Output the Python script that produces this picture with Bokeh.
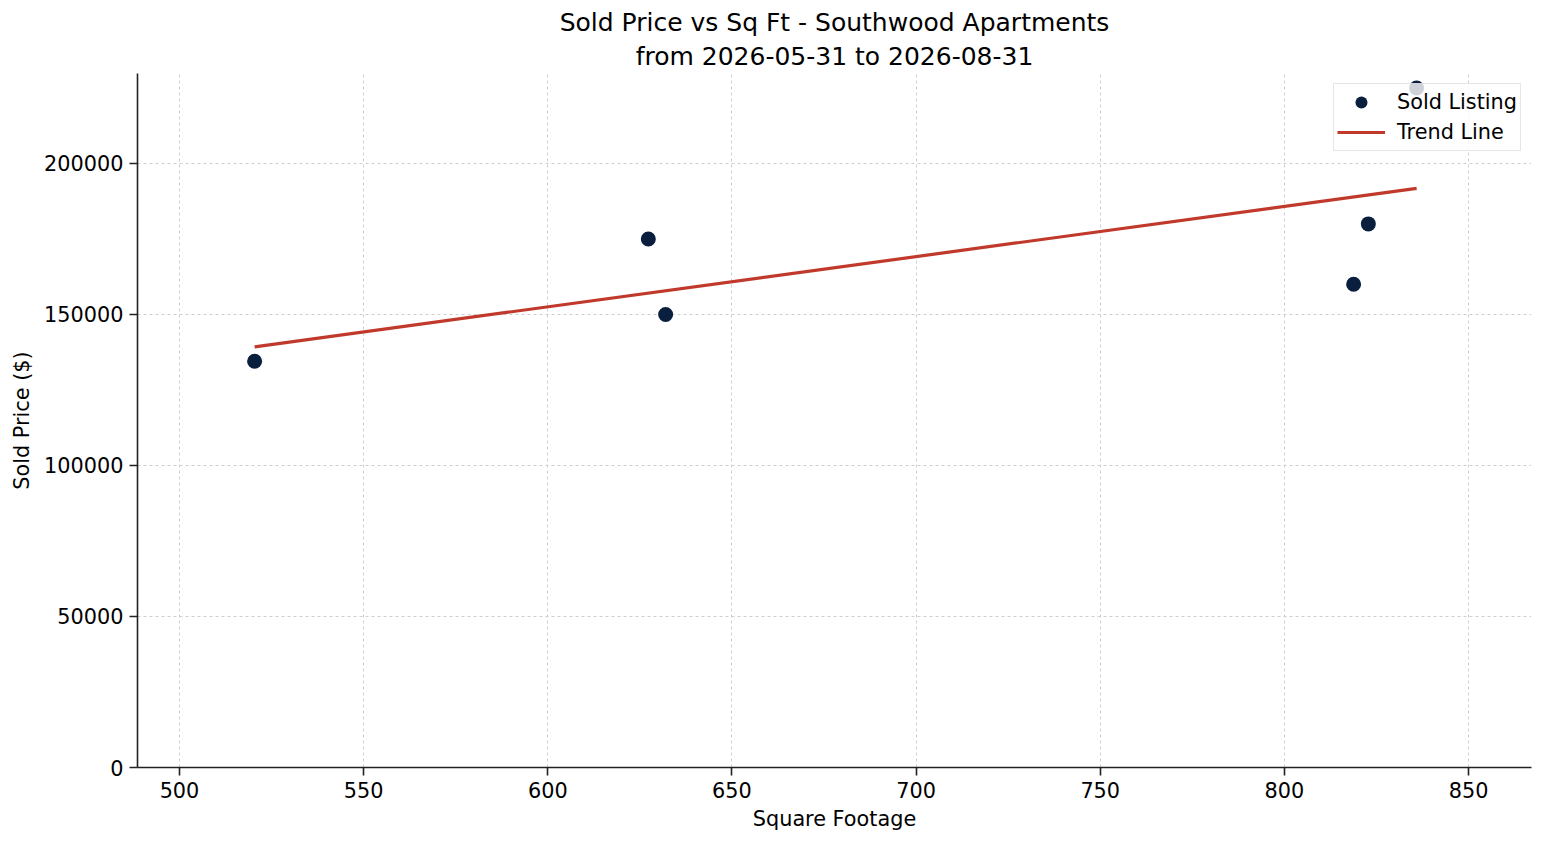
"""Sold price vs square footage scatter with trend line."""
import numpy as np
from bokeh.plotting import figure
from bokeh.models import (ColumnDataSource, Range1d, SingleIntervalTicker,
                          BasicTickFormatter, Legend, Title)
from bokeh.embed import file_html
from bokeh.resources import INLINE

TITLE_LINES = ["Sold Price vs Sq Ft - Southwood Apartments", "from 2026-05-31 to 2026-08-31"]

sqft = [520.4, 627.3, 632.0, 818.8, 822.8, 835.9]
sold_price = [134500, 175000, 150000, 160000, 180000, 225000]

FONT = "DejaVu Sans"
POINT_COLOR = "#0a1f3d"
TREND_COLOR = "#c0392b"
LABEL_SIZE = "20.8px"

# least squares trend over the sold listings
slope, intercept = np.polyfit(sqft, sold_price, 1)
trend_x = [min(sqft), max(sqft)]
trend_y = [slope * x + intercept for x in trend_x]

p = figure(
    width=1547, height=845,
    output_backend="svg", toolbar_location=None,
    x_range=Range1d(488.6, 867.1), y_range=Range1d(0, 229800),
    min_border_left=137, min_border_right=16, min_border_top=73, min_border_bottom=78,
    title=None,
)

# first added sits nearest the frame
for text, standoff in zip(reversed(TITLE_LINES), (6, 0)):
    p.add_layout(Title(text=text, align="center", text_font=FONT, text_font_size="25px",
                       text_font_style="normal", text_color="#000000",
                       standoff=standoff, offset=0), "above")

pts = ColumnDataSource(data=dict(x=sqft, y=sold_price))
trend = ColumnDataSource(data=dict(x=trend_x, y=trend_y))

r_pts = p.scatter("x", "y", source=pts, size=15, color=POINT_COLOR, line_color=None)
r_line = p.line("x", "y", source=trend, line_color=TREND_COLOR, line_width=3.2)

p.xaxis.ticker = SingleIntervalTicker(interval=50)
p.yaxis.ticker = SingleIntervalTicker(interval=50000)
p.yaxis.formatter = BasicTickFormatter(use_scientific=False)
p.xaxis.axis_label = "Square Footage"
p.yaxis.axis_label = "Sold Price ($)"

for ax in (p.xaxis, p.yaxis):
    ax.axis_line_color = "#222222"
    ax.axis_line_width = 1.6
    ax.major_tick_line_color = "#222222"
    ax.major_tick_line_width = 1.6
    ax.major_tick_out = 8
    ax.major_tick_in = 0
    ax.minor_tick_line_color = None
    ax.major_label_text_font = FONT
    ax.major_label_text_font_size = LABEL_SIZE
    ax.major_label_text_color = "#000000"
    ax.axis_label_text_font = FONT
    ax.axis_label_text_font_size = LABEL_SIZE
    ax.axis_label_text_font_style = "normal"
    ax.axis_label_text_color = "#000000"
p.xaxis.major_label_standoff = 6
p.yaxis.major_label_standoff = 6
p.xaxis.axis_label_standoff = 6
p.yaxis.axis_label_standoff = 7

p.grid.grid_line_color = "#cfcfcf"
p.grid.grid_line_dash = "3 3"
p.grid.grid_line_width = 1
p.outline_line_color = None

legend = Legend(
    items=[("Sold Listing", [r_pts]), ("Trend Line", [r_line])],
    location="top_right",
    label_text_font=FONT, label_text_font_size=LABEL_SIZE, label_text_color="#000000",
    border_line_color="#cccccc", border_line_width=1.5,
    background_fill_alpha=0.8,
    padding=3, spacing=0, margin=10,
    glyph_width=48, glyph_height=30, label_standoff=12, label_height=30,
)
p.add_layout(legend, "center")

open("out.html", "w").write(file_html(p, INLINE))
